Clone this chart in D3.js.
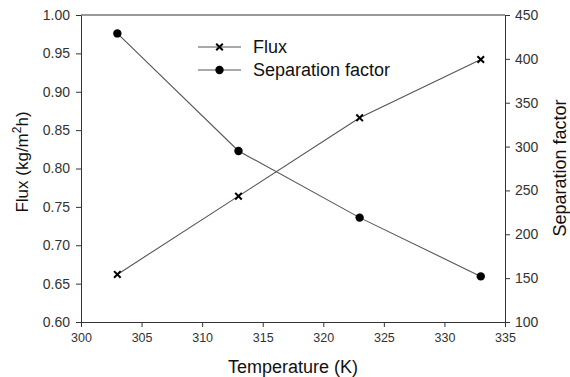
<!DOCTYPE html>
<html>
<head>
<meta charset="utf-8">
<script src="https://cdn.jsdelivr.net/npm/d3@7"></script>
<style>
  body { margin: 0; background: #fff; }
  svg { display: block; font-family: "Liberation Sans", Arial, sans-serif; }
  .axis text { font-size: 14px; fill: #333; }
  .axis.bottom text { font-size: 12.5px; }
  .axis path, .axis line { stroke: #333; }
</style>
</head>
<body>
<svg id="chart" width="570" height="377"></svg>
<script>
// data
const temps = [303, 313, 323, 333];
const flux = [0.662, 0.764, 0.866, 0.942];
const sepFactor = [429, 295, 219, 152];

const xTicks = [300, 305, 310, 315, 320, 325, 330, 335];
const fluxTicks = [0.60, 0.65, 0.70, 0.75, 0.80, 0.85, 0.90, 0.95, 1.00];
const sepTicks = [100, 150, 200, 250, 300, 350, 400, 450];

const svg = d3.select('#chart');
const margin = {top: 15, right: 65, bottom: 55, left: 81};
const W = +svg.attr('width'), H = +svg.attr('height');
const innerW = W - margin.left - margin.right, innerH = H - margin.top - margin.bottom;
const g = svg.append('g').attr('transform', `translate(${margin.left},${margin.top})`);

const x = d3.scaleLinear().domain([300, 335]).range([0, innerW]);
const yL = d3.scaleLinear().domain([0.60, 1.00]).range([innerH, 0]);
const yR = d3.scaleLinear().domain([100, 450]).range([innerH, 0]);

// frame top line
g.append('line').attr('x1', 0).attr('x2', innerW).attr('y1', 0).attr('y2', 0)
  .attr('stroke', '#333');

g.append('g').attr('class', 'axis bottom').attr('transform', `translate(0,${innerH})`)
  .call(d3.axisBottom(x).tickValues(xTicks).tickSize(5).tickSizeOuter(0).tickPadding(6));
g.append('g').attr('class', 'axis')
  .call(d3.axisLeft(yL).tickValues(fluxTicks).tickFormat(d3.format('.2f')).tickSize(5).tickSizeOuter(0).tickPadding(6));
g.append('g').attr('class', 'axis').attr('transform', `translate(${innerW},0)`)
  .call(d3.axisRight(yR).tickValues(sepTicks).tickSize(5).tickSizeOuter(0).tickPadding(5));

// lines
const fluxData = temps.map((t, i) => ({t, v: flux[i]}));
const sepData = temps.map((t, i) => ({t, v: sepFactor[i]}));

g.append('path').datum(fluxData)
  .attr('fill', 'none').attr('stroke', '#555').attr('stroke-width', 1.1)
  .attr('d', d3.line().x(d => x(d.t)).y(d => yL(d.v)));
g.append('path').datum(sepData)
  .attr('fill', 'none').attr('stroke', '#555').attr('stroke-width', 1.1)
  .attr('d', d3.line().x(d => x(d.t)).y(d => yR(d.v)));

const cross = d3.symbol().type(d3.symbolX).size(30);
g.selectAll('.fx').data(fluxData).join('path')
  .attr('class', 'fx')
  .attr('transform', d => `translate(${x(d.t)},${yL(d.v)})`)
  .attr('d', cross).attr('fill', 'none').attr('stroke', '#000').attr('stroke-width', 2);
g.selectAll('.sf').data(sepData).join('circle')
  .attr('class', 'sf')
  .attr('cx', d => x(d.t)).attr('cy', d => yR(d.v)).attr('r', 4.2)
  .attr('fill', '#000');

// legend
const lg = svg.append('g').attr('transform', 'translate(198,47)');
lg.append('line').attr('x1', 0).attr('x2', 43).attr('y1', 0).attr('y2', 0).attr('stroke', '#555').attr('stroke-width', 1.1);
lg.append('path').attr('transform', 'translate(21.5,0)').attr('d', cross)
  .attr('fill', 'none').attr('stroke', '#000').attr('stroke-width', 2);
lg.append('text').attr('x', 55).attr('y', 6).attr('font-size', 18).attr('fill', '#111').text('Flux');
lg.append('line').attr('x1', 0).attr('x2', 43).attr('y1', 23).attr('y2', 23).attr('stroke', '#555').attr('stroke-width', 1.1);
lg.append('circle').attr('cx', 21.5).attr('cy', 23).attr('r', 4.2).attr('fill', '#000');
lg.append('text').attr('x', 55).attr('y', 29).attr('font-size', 18).attr('fill', '#111').text('Separation factor');

// axis titles
svg.append('text')
  .attr('transform', `translate(${margin.left + innerW / 2},373)`)
  .attr('text-anchor', 'middle').attr('font-size', 18).attr('fill', '#111')
  .text('Temperature (K)');

const lt = svg.append('text')
  .attr('transform', 'translate(28,162) rotate(-90)')
  .attr('text-anchor', 'middle').attr('font-size', 17).attr('fill', '#111');
lt.append('tspan').text('Flux (kg/m');
lt.append('tspan').attr('font-size', 12).attr('dy', -7).text('2');
lt.append('tspan').attr('dy', 7).text('h)');

svg.append('text')
  .attr('transform', 'translate(566,168) rotate(-90)')
  .attr('text-anchor', 'middle').attr('font-size', 18).attr('fill', '#111')
  .text('Separation factor');
</script>
</body>
</html>
